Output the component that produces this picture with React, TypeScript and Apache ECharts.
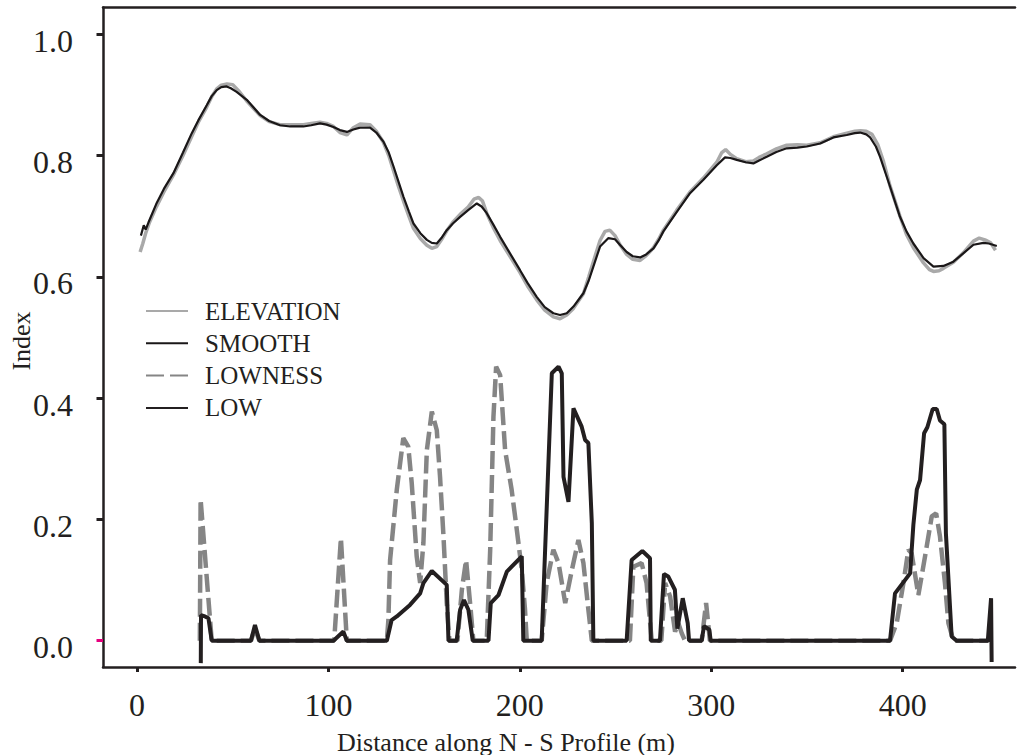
import React, { useEffect, useRef } from "react";
import * as echarts from "echarts";

const xTicks = [0, 100, 200, 300, 400];
const yTicks = [0, 0.2, 0.4, 0.6, 0.8, 1.0];

const elevation: [number, number][] = [
  [1.6, 0.641], [3, 0.655], [4.5, 0.672], [6.5, 0.69], [10, 0.715], [14, 0.74], [19, 0.768], [24, 0.8],
  [28.6, 0.832], [32, 0.855], [36.4, 0.88], [39, 0.897], [41.6, 0.91], [44, 0.916], [47, 0.918], [50, 0.917],
  [53, 0.907], [57.3, 0.89], [64.3, 0.866], [69, 0.856], [74.7, 0.851], [80, 0.851], [86.9, 0.851], [91, 0.853],
  [95.6, 0.855], [99, 0.853], [102.6, 0.848], [106, 0.838], [109.6, 0.834], [113, 0.846], [116.5, 0.852],
  [121.7, 0.851], [125, 0.84], [128.7, 0.822], [131.5, 0.8], [134, 0.775], [136.5, 0.75], [139.2, 0.725],
  [142, 0.7], [144.4, 0.68], [148, 0.663], [151.4, 0.652], [154, 0.647], [156.6, 0.65], [159, 0.661],
  [161.8, 0.676], [165, 0.69], [168.8, 0.703], [173, 0.715], [176, 0.728], [178.5, 0.731], [180.5, 0.725],
  [182.7, 0.705], [186, 0.682], [189.7, 0.66], [195, 0.633], [200.1, 0.607], [204, 0.585], [208.8, 0.562],
  [213, 0.545], [217.5, 0.534], [221, 0.531], [224.5, 0.537], [228, 0.548], [233.2, 0.572], [236, 0.6],
  [238.4, 0.625], [241.9, 0.66], [244.5, 0.675], [247, 0.677], [249.7, 0.668], [252.5, 0.652], [255.8, 0.637],
  [259, 0.629], [262.8, 0.627], [266, 0.635], [269.8, 0.648], [272.5, 0.662], [275, 0.677], [282, 0.71],
  [288.9, 0.74], [295.9, 0.763], [302.9, 0.789], [305.5, 0.805], [307.5, 0.81], [310, 0.802], [313.3, 0.795],
  [318, 0.79], [322, 0.791], [325, 0.797], [329, 0.803], [334, 0.811], [339.4, 0.817], [345, 0.818],
  [349.9, 0.817], [356.9, 0.821], [363.8, 0.831], [370.8, 0.837], [375, 0.84], [378, 0.841], [381, 0.84],
  [384, 0.835], [387, 0.818], [390, 0.79], [393.4, 0.75], [398.6, 0.7], [402, 0.67], [405.6, 0.648],
  [410.9, 0.623], [414, 0.612], [416.1, 0.609], [419, 0.61], [421.3, 0.614], [426.5, 0.624], [431.8, 0.64],
  [437, 0.659], [440, 0.664], [443, 0.661], [446, 0.656], [448.5, 0.644],
];

const smooth: [number, number][] = [
  [2, 0.668], [3.5, 0.685], [4.5, 0.678], [6, 0.69], [10, 0.72], [14, 0.745], [19, 0.771], [24, 0.805],
  [28.6, 0.837], [32, 0.858], [36.4, 0.883], [39, 0.898], [41.6, 0.908], [44, 0.913], [46.8, 0.914], [49, 0.911],
  [52, 0.905], [57.3, 0.892], [64.3, 0.867], [69, 0.857], [74.7, 0.85], [80, 0.848], [86.9, 0.848], [91, 0.85],
  [95.6, 0.853], [99, 0.851], [102.6, 0.847], [106, 0.842], [109.6, 0.839], [113, 0.843], [116.5, 0.846],
  [121.7, 0.846], [125, 0.838], [128.7, 0.823], [131.5, 0.805], [134, 0.782], [136.5, 0.758], [139.2, 0.732],
  [142, 0.708], [144.4, 0.688], [148, 0.672], [151.4, 0.661], [154, 0.656], [156.6, 0.655], [159, 0.664],
  [161.8, 0.677], [165, 0.688], [168.8, 0.699], [173, 0.71], [177.5, 0.721], [180, 0.716], [182.7, 0.705],
  [186, 0.687], [189.7, 0.666], [195, 0.638], [200.1, 0.611], [204, 0.59], [208.8, 0.567], [213, 0.55],
  [217.5, 0.54], [221, 0.537], [224.5, 0.54], [228, 0.551], [233.2, 0.573], [236, 0.594], [238.4, 0.617],
  [241.9, 0.65], [246.3, 0.664], [249.7, 0.662], [252.5, 0.652], [255.8, 0.641], [259, 0.634], [262.8, 0.632],
  [266, 0.637], [269.8, 0.647], [272.5, 0.66], [275, 0.675], [282, 0.707], [288.9, 0.738], [295.9, 0.76],
  [302.9, 0.784], [307.2, 0.797], [310, 0.796], [313.3, 0.793], [318, 0.789], [322, 0.787], [325, 0.792],
  [329, 0.798], [334, 0.806], [339.4, 0.812], [345, 0.813], [349.9, 0.815], [356.9, 0.82], [363.8, 0.83],
  [370.8, 0.834], [375, 0.837], [377.8, 0.838], [381, 0.835], [383, 0.83], [386, 0.815], [388.2, 0.798],
  [393.4, 0.749], [398.6, 0.699], [402, 0.675], [405.6, 0.655], [410.9, 0.631], [416.1, 0.617], [421.3, 0.618],
  [426.5, 0.625], [431.8, 0.639], [437, 0.653], [442.2, 0.656], [445, 0.655], [449.2, 0.651],
];

const lowness: [number, number][] = [
  [32.8, 0], [33.2, 0.233], [36.4, 0.104], [39, 0], [59.5, 0], [61.6, 0.02], [63.9, 0], [103, 0],
  [106.5, 0.169], [109.6, 0], [130.5, 0], [131.3, 0.034], [132.2, 0.133], [135.7, 0.249], [139.1, 0.334],
  [141.7, 0.32], [143.5, 0.26], [146.1, 0.139], [147.9, 0.095], [149.6, 0.161], [151.4, 0.314], [154, 0.378],
  [156.6, 0.347], [158.3, 0.27], [160.1, 0.172], [161.8, 0.062], [163.2, 0], [167.4, 0], [169.7, 0.084],
  [171.9, 0.133], [174, 0.062], [175.7, 0], [182.7, 0], [184.5, 0.15], [186.2, 0.369], [187.6, 0.452],
  [189.7, 0.438], [192.3, 0.314], [195.7, 0.249], [198.4, 0.183], [201, 0.117], [202.7, 0.051], [203.6, 0],
  [211.4, 0], [214, 0.095], [217.5, 0.15], [220.2, 0.128], [223.7, 0.062], [227.2, 0.117], [230.6, 0.166],
  [233.2, 0.128], [235.8, 0.051], [237.6, 0], [257.5, 0], [259.3, 0.122], [263.6, 0.128], [266.2, 0.095],
  [268.9, 0], [273.9, 0], [275.9, 0.095], [278.5, 0.073], [281.1, 0.015], [282.8, 0.029], [284.6, 0.012],
  [286.3, 0], [295, 0], [297.3, 0.062], [299.3, 0], [393.4, 0], [396.9, 0.029], [400.4, 0.095], [403, 0.15],
  [404.7, 0.144], [408.2, 0.075], [411.7, 0.139], [415.2, 0.205], [417.5, 0.21], [419.5, 0.172], [422.1, 0.095],
  [423.9, 0.029], [426.5, 0], [445, 0],
];

const low: [number, number][] = [
  [33.3, -0.037], [33.4, 0.042], [35.5, 0.04], [37.3, 0.037], [39, 0], [59.5, 0], [61.6, 0.026], [63.9, 0],
  [102.6, 0], [107.8, 0.015], [109.6, 0], [130.5, 0], [133, 0.034], [135.7, 0.04], [142.6, 0.059], [147.9, 0.078],
  [149.6, 0.095], [154, 0.115], [161.8, 0.092], [162.7, 0], [167, 0], [168.8, 0.051], [170.8, 0.067],
  [173.1, 0.051], [175.4, 0], [183.6, 0], [184.8, 0.062], [188.8, 0.075], [193.2, 0.114], [201, 0.139],
  [201.8, 0], [211.4, 0], [216.7, 0.441], [220.2, 0.452], [221.9, 0.441], [222.8, 0.27], [225.4, 0.229],
  [228, 0.383], [232.3, 0.353], [234.1, 0.331], [235.8, 0.326], [237.6, 0.194], [238.4, 0], [255.8, 0],
  [258.4, 0.133], [264, 0.148], [268, 0.136], [268.4, 0], [273.2, 0], [275.3, 0.11], [277.5, 0.106], [281, 0.084],
  [282.3, 0.02], [285.1, 0.07], [287.7, 0.029], [288.4, 0], [295, 0], [296.2, 0.024], [299, 0.018], [299.7, 0],
  [393.4, 0], [396, 0.078], [403.9, 0.111], [405.6, 0.191], [407.4, 0.249], [409.1, 0.265], [411.2, 0.342],
  [412.9, 0.352], [415.7, 0.382], [417.8, 0.382], [419.5, 0.363], [421.8, 0.357], [422.6, 0.177], [425.6, 0.007],
  [428.2, 0], [444.5, 0], [446.2, 0.07], [446.5, -0.035],
];

const FONT = "'Liberation Serif', 'Times New Roman', serif";
const INK = "#231f20";
const PINK = "#e6007e";

export default function App() {
  const ref = useRef<HTMLDivElement>(null);
  useEffect(() => {
    if (!ref.current) return;
    const chart = echarts.init(ref.current, undefined, { renderer: "svg" });
    const xMin = -17.8;
    const xMax = 458.7;
    const yMin = -0.0434;
    const yMax = 1.0442;
    const hiddenX = (position: string, ticks: number[] | null, line: boolean) => ({
      type: "value",
      position,
      min: xMin,
      max: xMax,
      splitLine: { show: false },
      axisLine: { show: line, onZero: false, lineStyle: { color: INK, width: 2.5 } },
      axisTick: ticks
        ? { show: true, inside: false, length: 5, lineStyle: { color: INK, width: 3 }, customValues: ticks }
        : { show: false },
      axisLabel: { show: false },
    });
    const hiddenY = (ticks: number[], color: string) => ({
      type: "value",
      position: "left",
      min: yMin,
      max: yMax,
      splitLine: { show: false },
      axisLine: { show: false, onZero: false },
      axisTick: { show: true, inside: false, length: 6.5, lineStyle: { color, width: 3 }, customValues: ticks },
      axisLabel: { show: false },
    });
    chart.setOption({
      animation: false,
      backgroundColor: "#ffffff",
      grid: { left: 103, right: 5, top: 7.5, bottom: 88 },
      legend: {
        orient: "vertical",
        left: 140,
        top: 293.5,
        itemWidth: 42,
        itemHeight: 14,
        itemGap: 7.3,
        selectedMode: false,
        itemStyle: { opacity: 0, borderWidth: 0 },
        textStyle: { fontFamily: FONT, fontSize: 25, color: INK, lineHeight: 25, padding: [0, 0, 0, 12] },
        data: ["ELEVATION", "SMOOTH", "LOWNESS", "LOW"],
      },
      xAxis: [
        {
          type: "value",
          position: "bottom",
          min: xMin,
          max: xMax,
          splitLine: { show: false },
          axisLine: { show: true, onZero: false, lineStyle: { color: INK, width: 2.5 } },
          axisTick: { show: false },
          axisLabel: {
            customValues: xTicks,
            fontFamily: FONT,
            fontSize: 32,
            color: INK,
            margin: 22,
            formatter: (v: number) => String(Math.round(v)),
          },
        },
        hiddenX("top", null, true),
        hiddenX("bottom", xTicks, false),
      ],
      yAxis: [
        {
          type: "value",
          position: "left",
          min: yMin,
          max: yMax,
          splitLine: { show: false },
          axisLine: { show: true, onZero: false, lineStyle: { color: INK, width: 2.5 } },
          axisTick: { show: false },
          axisLabel: {
            customValues: yTicks,
            fontFamily: FONT,
            fontSize: 32,
            color: INK,
            margin: 30,
            verticalAlign: "top",
            lineHeight: 13,
            formatter: (v: number) => v.toFixed(1),
          },
        },
        hiddenY(yTicks.slice(1), INK),
        hiddenY([0], PINK),
      ],
      graphic: [
        {
          type: "text",
          x: 506,
          y: 742,
          style: {
            text: "Distance along N - S Profile (m)",
            font: `26px ${FONT}`,
            fill: INK,
            textAlign: "center",
            textVerticalAlign: "middle",
          },
        },
        {
          type: "text",
          x: 21.6,
          y: 341,
          rotation: Math.PI / 2,
          style: {
            text: "Index",
            font: `26px ${FONT}`,
            fill: INK,
            textAlign: "center",
            textVerticalAlign: "middle",
          },
        },
      ],
      series: [
        {
          name: "ELEVATION",
          type: "line",
          data: elevation,
          symbol: "none",
          lineStyle: { color: "#a9a9a9", width: 3.5 },
          itemStyle: { color: "#a9a9a9" },
          z: 2,
        },
        {
          name: "SMOOTH",
          type: "line",
          data: smooth,
          symbol: "none",
          lineStyle: { color: "#1a1718", width: 2.2 },
          itemStyle: { color: "#1a1718" },
          z: 3,
        },
        {
          name: "LOWNESS",
          type: "line",
          data: lowness,
          symbol: "none",
          lineStyle: { color: "#858585", width: 4.5, type: [18, 6] },
          itemStyle: { color: "#858585" },
          z: 4,
        },
        {
          name: "LOW",
          type: "line",
          data: low,
          symbol: "none",
          lineStyle: { color: INK, width: 4 },
          itemStyle: { color: INK },
          z: 5,
        },
      ],
    });
    return () => chart.dispose();
  }, []);
  return (
    <div
      ref={ref}
      style={{ position: "fixed", left: 0, top: 0, width: 1020, height: 755, background: "#fff" }}
    />
  );
}
